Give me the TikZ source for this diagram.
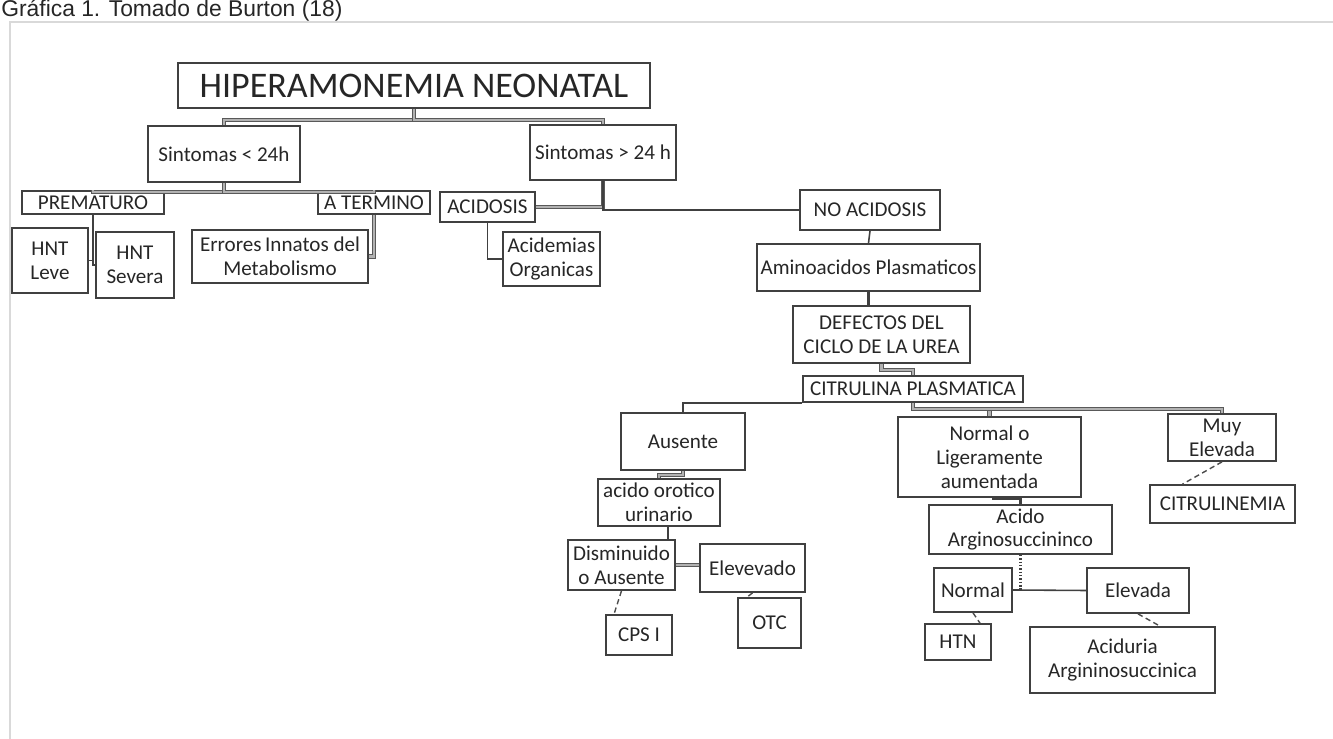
\documentclass[tikz,border=0pt]{standalone}
\usepackage{fontspec}
\setmainfont{Carlito}
\newfontfamily\capfont{Liberation Sans}
\usetikzlibrary{calc}

\tikzset{
  box/.style={draw=black!75, line width=1pt, text=black!85, align=center, inner sep=1pt,
    font=\fontsize{12}{13.6}\selectfont},
  wh/.style args={#1x#2}{minimum width=#1*0.02cm, minimum height=#2*0.02cm},
  link/.style={draw=black!75, line width=0.9pt},
  hatch/.style={draw=black!65, line width=0.5pt, double=black!30, double distance=1.4pt},
  slant/.style={draw=black!70, line width=0.8pt, densely dashed},
}

\begin{document}
\begin{tikzpicture}[x=0.02cm, y=-0.02cm]
  \useasboundingbox (0,0) rectangle (1333,739);
  \draw[black!15, line width=0.8pt] (10,739) -- (10,22) -- (1333,22);
  \node[anchor=base west, inner sep=0pt, text=black!85, font=\capfont\fontsize{13}{15}\selectfont]
    (cap) at (1,17) {Gráfica 1. Tomado de Burton (18)};

  \node[box, wh=472x45, font=\fontsize{20.5}{24}\selectfont] (hip) at (414,85.5) {HIPERAMONEMIA NEONATAL};
  \node[box, wh=152x56] (sl) at (224,154) {Sintomas < 24h};
  \node[box, wh=146x55] (sg) at (603,152.5) {Sintomas > 24 h};
  \node[box, wh=142x23] (prem) at (93,202.5) {PREMATURO};
  \node[box, wh=112x23] (term) at (374,202.5) {A TERMINO};
  \node[box, wh=95x30] (acid) at (487.5,207) {ACIDOSIS};
  \node[box, wh=140x40] (noacid) at (870,210) {NO ACIDOSIS};
  \node[box, wh=76x65] (leve) at (50,260.5) {HNT\\Leve};
  \node[box, wh=78x66] (sev) at (135,265) {HNT\\Severa};
  \node[box, wh=176x53] (err) at (280,256.5) {Errores\,Innatos del\\Metabolismo};
  \node[box, wh=97x54] (acidem) at (551.5,259) {Acidemias\\Organicas};
  \node[box, wh=223x47] (ami) at (868.5,267.5) {Aminoacidos Plasmaticos};
  \node[box, wh=177x57] (def) at (881.5,334.5) {DEFECTOS DEL\\CICLO DE LA UREA};
  \node[box, wh=220x26] (cit) at (913,389) {CITRULINA PLASMATICA};
  \node[box, wh=124x57] (aus) at (683,441.5) {Ausente};
  \node[box, wh=183x80] (norm) at (989.5,457) {Normal o\\Ligeramente\\aumentada};
  \node[box, wh=108x47] (muy) at (1222,437.5) {Muy\\Elevada};
  \node[box, wh=145x38] (citr) at (1222.5,504) {CITRULINEMIA};
  \node[box, wh=122x47] (oro) at (659,502.5) {acido orotico\\urinario};
  \node[box, wh=183x49] (arg) at (1020.5,529.5) {Acido\\Arginosuccininco};
  \node[box, wh=107x50] (dis) at (621.5,565) {Disminuido\\o Ausente};
  \node[box, wh=105x48] (elv) at (752.5,568) {Elevevado};
  \node[box, wh=78x44] (nor) at (973,590) {Normal};
  \node[box, wh=102x45] (ela) at (1138,590.5) {Elevada};
  \node[box, wh=66x40] (cps) at (639,635) {CPS I};
  \node[box, wh=63x50] (otc) at (769.5,623) {OTC};
  \node[box, wh=66x36] (htn) at (958,642) {HTN};
  \node[box, wh=185x66] (acu) at (1122.5,660) {Aciduria\\Argininosuccinica};

  \draw[hatch] (hip.south) -- ++(0,11) -| (sl.north);
  \draw[hatch] (hip.south) -- ++(0,11) -| (sg.north);
  \draw[hatch] (sl.south) -- ++(0,9) -| (prem.north);
  \draw[hatch] (sl.south) -- ++(0,9) -| (term.north);
  \draw[link] (prem.south) |- (leve.east);
  \draw[link] (prem.south) |- (sev.west);
  \draw[hatch] (term.south) |- (err.east);
  \draw[hatch] (sg.south) |- (acid.east);
  \draw[link] (sg.south) |- (noacid.west);
  \draw[link] (acid.south) |- (acidem.west);
  \draw[link] (noacid.south) -- (ami.north);
  \draw[link, line width=1.4pt] (ami.south) -- (ami.south |- def.north);
  \draw[hatch] (def.south) -- ++(0,6) -| (cit.north);
  \draw[link] (cit.south west) -| (aus.north);
  \draw[hatch] (cit.south) -- ++(0,6) -| (norm.north);
  \draw[hatch] (cit.south) -- ++(0,6) -| (muy.north);
  \draw[slant] (muy.south) -- ([xshift=-0.8cm]citr.north);
  \draw[hatch] (aus.south) -- ++(0,4) -| (oro.north);
  \draw[link] ([xshift=0.18cm]oro.south) -- ([xshift=0.18cm]oro.south |- dis.north);
  \draw[hatch] (dis.east) -- (dis.east -| elv.west);
  \draw[slant] (dis.south) -- ([xshift=-0.5cm]cps.north);
  \draw[slant] (elv.south) -- ([xshift=-0.45cm]otc.north);
  \draw[link, line width=2pt] ([xshift=0.05cm]norm.south) -| (arg.north);
  \draw[link, densely dotted, line width=1.2pt] (arg.south) -- (arg.south |- nor.east);
  \draw[link] (nor.east) -- (ela.west);
  \draw[slant] (nor.south) -- ([xshift=0.44cm]htn.north);
  \draw[slant] (ela.south) -- ([xshift=0.75cm]acu.north);
\end{tikzpicture}
\end{document}
